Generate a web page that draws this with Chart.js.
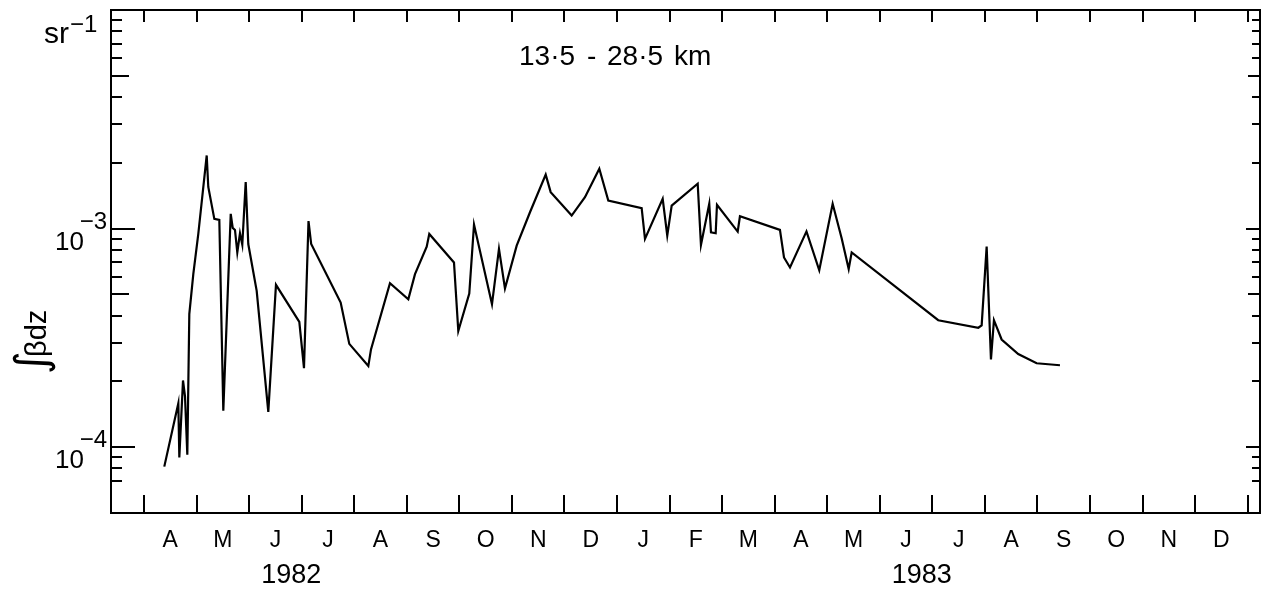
<!DOCTYPE html>
<html>
<head>
<meta charset="utf-8">
<script src="https://cdn.jsdelivr.net/npm/chart.js@4.4.1/dist/chart.umd.min.js"></script>
<style>
  html, body { margin: 0; padding: 0; background: #fff; }
  #wrap { width: 1272px; height: 590px; }
</style>
</head>
<body>
<div id="wrap"><canvas id="c" width="1272" height="590"></canvas></div>
<script>
// Time in months since 1 Jan 1982 (3 = 1 Apr 1982, 15 = 1 Apr 1983)
const monthsSince1982 = [
  3.386, 3.653, 3.672, 3.742, 3.780, 3.824, 3.862, 3.938, 4.033, 4.193,
  4.223, 4.338, 4.433, 4.509, 4.650, 4.688, 4.731, 4.775, 4.826, 4.870,
  4.935, 4.984, 5.144, 5.365, 5.511, 5.955, 6.044, 6.130, 6.181, 6.742,
  6.906, 7.268, 7.319, 7.680, 8.029, 8.156, 8.379, 8.428, 8.898, 8.980,
  9.189, 9.279, 9.621, 9.754, 9.868, 10.091, 10.344, 10.643, 10.738, 11.137,
  11.390, 11.663, 11.834, 12.469, 12.532, 12.869, 12.956, 13.040, 13.535, 13.597,
  13.755, 13.788, 13.877, 13.902, 14.296, 14.339, 15.100, 15.177, 15.291, 15.605,
  15.848, 16.103, 16.274, 16.408, 16.465, 18.112, 18.874, 18.938, 19.033, 19.115,
  19.172, 19.318, 19.634, 19.984, 20.428
];
// Integrated backscatter (sr^-1), 13.5 - 28.5 km
const integratedBackscatter = [
  8.15e-5, 1.59e-4, 8.97e-5, 2.02e-4, 1.71e-4, 9.23e-5, 4.06e-4, 6.19e-4, 9.45e-4, 2.16e-3,
  1.55e-3, 1.108e-3, 1.096e-3, 1.47e-4, 1.168e-3, 1.007e-3, 9.86e-4, 7.78e-4, 9.52e-4, 8.44e-4,
  1.632e-3, 8.50e-4, 5.19e-4, 1.45e-4, 5.53e-4, 3.74e-4, 2.30e-4, 1.083e-3, 8.50e-4, 4.59e-4,
  2.97e-4, 2.35e-4, 2.80e-4, 5.63e-4, 4.75e-4, 6.19e-4, 8.27e-4, 9.45e-4, 7.00e-4, 3.40e-4,
  5.04e-4, 1.043e-3, 4.51e-4, 8.07e-4, 5.32e-4, 8.35e-4, 1.188e-3, 1.765e-3, 1.468e-3, 1.147e-3,
  1.392e-3, 1.88e-3, 1.345e-3, 1.24e-3, 8.97e-4, 1.369e-3, 9.29e-4, 1.275e-3, 1.604e-3, 8.41e-4,
  1.299e-3, 9.62e-4, 9.52e-4, 1.285e-3, 9.69e-4, 1.139e-3, 9.86e-4, 7.38e-4, 6.64e-4, 9.71e-4,
  6.45e-4, 1.299e-3, 9.04e-4, 6.53e-4, 7.78e-4, 3.81e-4, 3.52e-4, 3.61e-4, 8.27e-4, 2.52e-4,
  3.81e-4, 3.11e-4, 2.67e-4, 2.42e-4, 2.37e-4
];
// Month boundaries (tick marks) and month labels
const monthTicks = [3,4,5,6,7,8,9,10,11,12,13,14,15,16,17,18,19,20,21,22,23,24];
const monthLabels = ['A','M','J','J','A','S','O','N','D','J','F','M','A','M','J','J','A','S','O','N','D'];
const yearLabels = ['1982', '1983'];
const yearLabelPos = [5.8, 17.8];
// Logarithmic y ticks
const yMajorTicks = [1e-4, 1e-3];
const yMajorExponents = ['\u22124', '\u22123'];
const yMidTicks = [5e-4, 5e-3];
const yMinorTicks = [7e-5, 8e-5, 9e-5, 2e-4, 3e-4, 4e-4, 6e-4, 7e-4, 8e-4, 9e-4,
                     2e-3, 3e-3, 4e-3, 6e-3, 7e-3, 8e-3, 9e-3];
const X_MIN = 2.372, X_MAX = 24.234;
const Y_MIN = 5e-5, Y_MAX = 1e-2;
const rangeText = ['13\u00b75', '-', '28\u00b75', 'km'];
const yTitleParts = ['\u222b', '\u03b2dz'];

const FONT = '"Liberation Sans", Arial, Helvetica, sans-serif';

const framePlugin = {
  id: 'frame',
  afterDraw(chart) {
    const { ctx, chartArea: a, scales: { x, y } } = chart;
    ctx.save();
    ctx.strokeStyle = '#000';
    ctx.fillStyle = '#000';
    ctx.lineWidth = 2;
    ctx.lineCap = 'butt';
    ctx.strokeRect(a.left, a.top, a.right - a.left, a.bottom - a.top);

    ctx.beginPath();
    monthTicks.forEach(m => {
      const px = Math.round(x.getPixelForValue(m));
      ctx.moveTo(px, a.bottom); ctx.lineTo(px, a.bottom - 18);
      ctx.moveTo(px, a.top); ctx.lineTo(px, a.top + 12);
    });
    const yt = (list, lenL, lenR) => list.forEach(v => {
      const py = Math.round(y.getPixelForValue(v));
      ctx.moveTo(a.left, py); ctx.lineTo(a.left + lenL, py);
      ctx.moveTo(a.right, py); ctx.lineTo(a.right - lenR, py);
    });
    yt(yMajorTicks, 24, 14);
    yt(yMidTicks, 18, 12);
    yt(yMinorTicks, 11, 8);
    ctx.stroke();

    // month labels
    ctx.font = '23px ' + FONT;
    ctx.textAlign = 'center';
    ctx.textBaseline = 'alphabetic';
    monthLabels.forEach((lab, i) => {
      ctx.fillText(lab, x.getPixelForValue(monthTicks[i] + 0.5), a.bottom + 34);
    });
    ctx.font = '27px ' + FONT;
    yearLabels.forEach((lab, i) => {
      ctx.fillText(lab, x.getPixelForValue(yearLabelPos[i]), a.bottom + 70);
    });

    // y tick labels 10^n
    yMajorTicks.forEach((v, i) => {
      const py = y.getPixelForValue(v);
      ctx.font = '26px ' + FONT;
      ctx.textAlign = 'right';
      ctx.fillText('10', 84, py + 21);
      ctx.font = '24px ' + FONT;
      ctx.fillText(yMajorExponents[i], 107, py);
    });

    // units sr^-1
    ctx.textAlign = 'left';
    ctx.font = '30px ' + FONT;
    ctx.fillText('sr', 44, 43);
    ctx.font = '24px ' + FONT;
    ctx.fillText('\u22121', 70, 32);

    // range annotation
    ctx.font = '28px ' + FONT;
    ctx.fillText(rangeText[0], 519, 65);
    ctx.fillText(rangeText[1], 587, 65);
    ctx.fillText(rangeText[2], 607, 65);
    ctx.fillText(rangeText[3], 674, 65);

    // y axis title (rotated)
    ctx.save();
    ctx.translate(46, 374);
    ctx.rotate(-Math.PI / 2);
    ctx.textAlign = 'left';
    ctx.font = '44px "DejaVu Sans", ' + FONT;
    ctx.fillText(yTitleParts[0], 0, 0);
    ctx.font = '29px ' + FONT;
    ctx.fillText(yTitleParts[1], 17, 0);
    ctx.restore();

    ctx.restore();
  }
};

new Chart(document.getElementById('c'), {
  type: 'line',
  data: {
    datasets: [{
      data: monthsSince1982.map((m, i) => ({ x: m, y: integratedBackscatter[i] })),
      borderColor: '#000',
      borderWidth: 2.2,
      pointRadius: 0,
      tension: 0,
      fill: false
    }]
  },
  options: {
    responsive: false,
    animation: false,
    devicePixelRatio: 1,
    layout: { padding: { left: 111, top: 10, right: 12, bottom: 77 } },
    plugins: { legend: { display: false }, tooltip: { enabled: false }, title: { display: false } },
    scales: {
      x: { type: 'linear', min: X_MIN, max: X_MAX, display: false },
      y: { type: 'logarithmic', min: Y_MIN, max: Y_MAX, display: false }
    }
  },
  plugins: [framePlugin]
});
</script>
</body>
</html>
